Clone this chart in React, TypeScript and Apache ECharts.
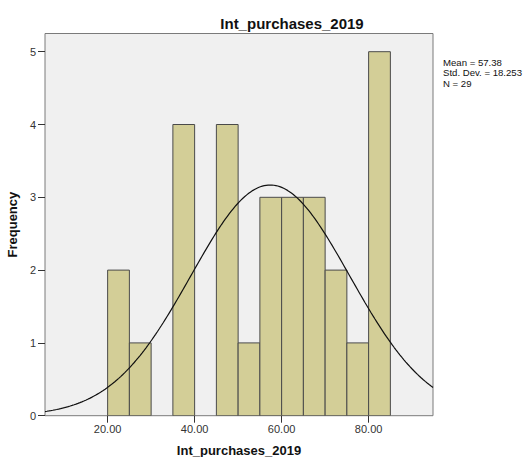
import React, { useEffect, useRef } from "react";
import * as echarts from "echarts";

const binStarts = [20, 25, 30, 35, 40, 45, 50, 55, 60, 65, 70, 75, 80];
const binCounts = [2, 1, 0, 4, 0, 4, 1, 3, 3, 3, 2, 1, 5];
const BIN_WIDTH = 5;
const MEAN = 57.38;
const STD_DEV = 18.253;
const N = 29;
const xTickValues = [20, 40, 60, 80];
const yTickValues = [0, 1, 2, 3, 4, 5];
const X_MIN = 5.6;
const X_MAX = 94.8;
const Y_MAX = 5.25;

export default function App() {
  const ref = useRef<HTMLDivElement>(null);
  useEffect(() => {
    document.body.style.margin = "0";
    if (!ref.current) return;
    const chart = echarts.init(ref.current, null, { renderer: "svg" });
    const barData = binStarts.map((s, i) => [s, s + BIN_WIDTH, binCounts[i]]).filter((d) => d[2] > 0);
    const curve: number[][] = [];
    const steps = 200;
    for (let i = 0; i <= steps; i++) {
      const x = X_MIN + ((X_MAX - X_MIN) * i) / steps;
      const z = (x - MEAN) / STD_DEV;
      const y = (N * BIN_WIDTH) / (STD_DEV * Math.sqrt(2 * Math.PI)) * Math.exp(-0.5 * z * z);
      curve.push([x, y]);
    }
    const font = "Arial, 'Liberation Sans', sans-serif";
    chart.setOption({
      animation: false,
      backgroundColor: "#ffffff",
      title: {
        text: "Int_purchases_2019",
        left: 287,
        top: 11,
        textAlign: "center",
        textStyle: { fontFamily: font, fontSize: 15, fontWeight: "bold", color: "#111" },
      },
      graphic: [
        {
          type: "text",
          left: 443,
          top: 57,
          style: {
            text: "Mean = 57.38\nStd. Dev. = 18.253\nN = 29",
            font: "9.6px Arial, 'Liberation Sans', sans-serif",
            lineHeight: 10.5,
            fill: "#111",
          },
        },
      ],
      grid: {
        left: 45,
        right: 95,
        top: 33.5,
        bottom: 41.3,
        containLabel: false,
        outerBoundsMode: "none",
        show: true,
        backgroundColor: "#F0F0F0",
        borderColor: "#7a7a7a",
        borderWidth: 1,
      },
      xAxis: {
        type: "value",
        min: X_MIN,
        max: X_MAX,
        name: "Int_purchases_2019",
        nameLocation: "middle",
        nameGap: 28,
        nameTextStyle: { fontFamily: font, fontSize: 13, fontWeight: "bold", color: "#111" },
        splitLine: { show: false },
        axisLine: { show: false },
        axisTick: { show: true, length: 7, customValues: xTickValues, lineStyle: { color: "#333" } },
        axisLabel: {
          customValues: xTickValues,
          formatter: (v: number) => v.toFixed(2),
          fontFamily: font,
          fontSize: 11,
          color: "#333",
          margin: 8,
        },
      },
      yAxis: {
        type: "value",
        min: 0,
        max: Y_MAX,
        name: "Frequency",
        nameLocation: "middle",
        nameGap: 23,
        nameRotate: 90,
        nameTextStyle: { fontFamily: font, fontSize: 13, fontWeight: "bold", color: "#111" },
        splitLine: { show: false },
        axisLine: { show: false },
        axisTick: { show: true, length: 7, customValues: yTickValues, lineStyle: { color: "#333" } },
        axisLabel: {
          customValues: yTickValues,
          fontFamily: font,
          fontSize: 11,
          color: "#333",
          margin: 9,
        },
      },
      series: [
        {
          type: "custom",
          data: barData,
          clip: true,
          renderItem: (params: any, api: any) => {
            const p0 = api.coord([api.value(0), api.value(2)]);
            const p1 = api.coord([api.value(1), 0]);
            return {
              type: "rect",
              shape: { x: p0[0], y: p0[1], width: p1[0] - p0[0], height: p1[1] - p0[1] },
              style: { fill: "#D3CE97", stroke: "#4a4a4a", lineWidth: 1 },
            };
          },
        },
        {
          type: "line",
          data: curve,
          showSymbol: false,
          symbol: "none",
          clip: true,
          lineStyle: { color: "#111", width: 1.2 },
          z: 5,
        },
      ],
    });
    return () => chart.dispose();
  }, []);
  return <div ref={ref} style={{ width: 528, height: 457 }} />;
}
